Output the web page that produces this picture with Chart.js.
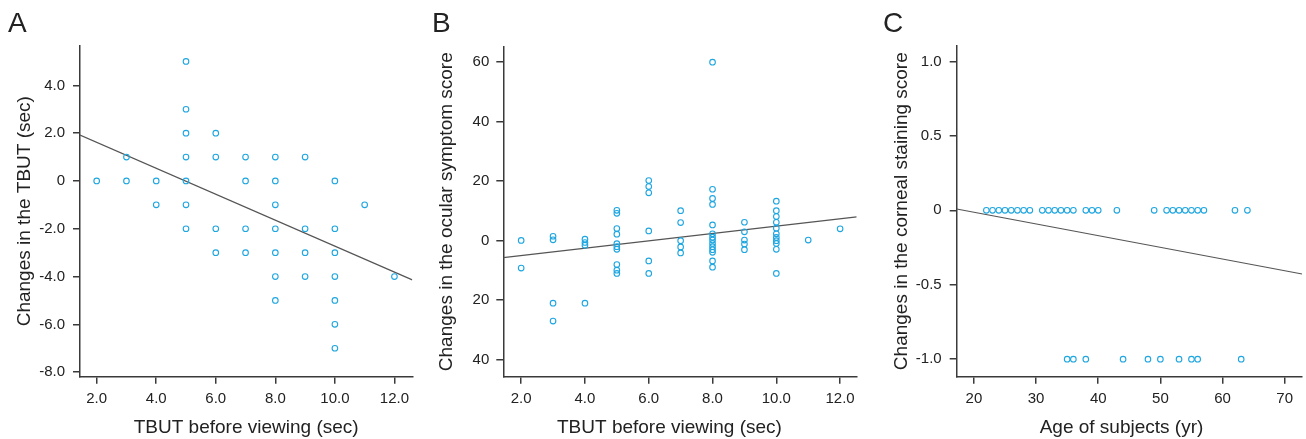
<!DOCTYPE html>
<html><head><meta charset="utf-8">
<script src="https://cdn.jsdelivr.net/npm/chart.js@4"></script>
<style>
html,body{margin:0;padding:0;background:#fff;width:1306px;height:439px;overflow:hidden;}
canvas{position:absolute;top:0;}
</style></head><body>
<canvas id="cA" width="430" height="439" style="left:0px"></canvas>
<canvas id="cB" width="440" height="439" style="left:430px"></canvas>
<canvas id="cC" width="436" height="439" style="left:870px"></canvas>
<script>
// ---------- Panel A ----------
const tbutA   = [2, 3,3, 4,4, 5,5,5,5,5,5,5, 6,6,6,6, 7,7,7,7, 8,8,8,8,8,8,8, 9,9,9,9, 10,10,10,10,10,10,10, 11, 12];
const changeA = [0, 1,0, 0,-1, 5,3,2,1,0,-1,-2, 2,1,-2,-3, 1,0,-2,-3, 1,0,-1,-2,-3,-4,-5, 1,-2,-3,-4, 0,-2,-3,-4,-5,-6,-7, -1, -4];
const fitLineA = [{x:1.44, y:1.92}, {x:12.6, y:-4.14}];
const xTicksA  = [2,4,6,8,10,12];
const xLabelsA = ['2.0','4.0','6.0','8.0','10.0','12.0'];
const yTicksA  = [-8,-6,-4,-2,0,2,4];
const yLabelsA = ['-8.0','-6.0','-4.0','-2.0','0','2.0','4.0'];

// ---------- Panel B ----------
const tbutB = [2,2, 3,3,3,3, 4,4,4,4, 5,5,5,5,5,5,5,5,5,5, 6,6,6,6,6,6, 7,7,7,7,7,
  8,8,8,8,8,8,8,8,8,8,8,8,8,8, 9,9,9,9,9, 10,10,10,10,10,10,10,10,10,10,10, 11, 12];
const symptomB = [0.1,-9.2, 1.5,0.3,-21,-27, 0.5,-0.6,-1.5,-21,
  10.2,9.2,4.1,2.2,-1.0,-2.0,-2.9,-8.0,-9.9,-11.0,
  20.2,18.2,16.1,3.3,-6.8,-11.0,
  10.1,6.1,0,-2.1,-4.1,
  60,17.3,14.2,12.2,5.3,2.3,1.2,0.2,-0.9,-2.0,-3.0,-3.9,-6.8,-8.9,
  6.2,3.0,0.2,-1.1,-3.0,
  13.3,10.1,8.1,6.2,4.2,2.3,1.1,0,-0.9,-2.9,-11.0,
  0.2, 4.0];
const fitLineB = [{x:1.44, y:-5.7}, {x:12.52, y:8.0}];
const xTicksB  = [2,4,6,8,10,12];
const xLabelsB = ['2.0','4.0','6.0','8.0','10.0','12.0'];
const yTicksB  = [-40,-20,0,20,40,60];
const yLabelsB = ['40','20','0','20','40','60'];

// ---------- Panel C ----------
const ageC = [22,23,24,25,26,27,28,29,31,32,33,34,35,36,38,39,40,43,49,51,52,53,54,55,56,57,62,64,
  35,36,38,44,48,50,53,55,56,63];
const stainC = [0,0,0,0,0,0,0,0,0,0,0,0,0,0,0,0,0,0,0,0,0,0,0,0,0,0,0,0,
  -1,-1,-1,-1,-1,-1,-1,-1,-1,-1];
const fitLineC = [{x:17.23, y:0.009}, {x:72.8, y:-0.428}];
const xTicksC  = [20,30,40,50,60,70];
const xLabelsC = ['20','30','40','50','60','70'];
const yTicksC  = [-1,-0.5,0,0.5,1];
const yLabelsC = ['-1.0','-0.5','0','0.5','1.0'];

const FONT = "'Liberation Sans', Arial, Helvetica, sans-serif";
const AXIS = '#3a3a3a';
const TEXT = '#222';
const DOT  = '#1ea6e0';

function pts(xs, ys){ return xs.map((x,i)=>({x:x, y:ys[i]})); }

const letterPlugin = {
  id:'panelLetter',
  afterDraw(chart, args, opts){
    const ctx = chart.ctx; ctx.save();
    ctx.font = '28px ' + FONT; ctx.fillStyle = TEXT;
    ctx.textBaseline = 'alphabetic'; ctx.textAlign = 'left';
    ctx.fillText(opts.text, opts.x, opts.y); ctx.restore();
  }
};

function makeChart(id, c){
  return new Chart(document.getElementById(id), {
    type:'scatter',
    data:{datasets:[
      {type:'line', data:c.line, borderColor:'#555', borderWidth:1.2, pointRadius:0, fill:false, order:1},
      {data:pts(c.xs, c.ys), borderColor:DOT, backgroundColor:'rgba(0,0,0,0)', pointRadius:2.8,
       pointHoverRadius:2.8, borderWidth:1.1, order:0}
    ]},
    options:{
      responsive:false, animation:false, devicePixelRatio:1,
      events:[],
      layout:{padding:{left:0, top:c.padTop, right:c.padRight, bottom:0}},
      plugins:{legend:{display:false}, tooltip:{enabled:false},
               panelLetter:{text:c.letter, x:c.letterX, y:32}},
      scales:{
        x:{type:'linear', position:'bottom', min:c.xMin, max:c.xMax,
           afterFit(s){ s.height = c.xAxisH; },
           afterBuildTicks(s){ s.ticks = c.xTicks.map(v=>({value:v})); },
           ticks:{callback:(v,i)=>c.xLabels[i], font:{family:FONT,size:15}, color:TEXT,
                  padding:6, maxRotation:0, autoSkip:false},
           grid:{drawOnChartArea:false, drawTicks:true, tickLength:7, color:AXIS, lineWidth:1.5},
           border:{color:AXIS, width:1.5},
           title:{display:true, text:c.xTitle, font:{family:FONT,size:19}, color:TEXT,
                  padding:{top:0,bottom:0}}
        },
        y:{type:'linear', position:'left', min:c.yMin, max:c.yMax,
           afterFit(s){ s.width = c.yAxisW; },
           afterBuildTicks(s){ s.ticks = c.yTicks.map(v=>({value:v})); },
           ticks:{callback:(v,i)=>c.yLabels[i], font:{family:FONT,size:15}, color:TEXT,
                  padding:c.yTickPad, autoSkip:false},
           grid:{drawOnChartArea:false, drawTicks:true, tickLength:7, color:AXIS, lineWidth:1.5},
           border:{color:AXIS, width:1.5},
           title:{display:true, text:c.yTitle, font:{family:FONT,size:19}, color:TEXT,
                  padding:{top:c.yTitlePad,bottom:0}}
        }
      }
    },
    plugins:[letterPlugin]
  });
}

makeChart('cA', {
  xs:tbutA, ys:changeA, line:fitLineA, letter:'A', letterX:8,
  xMin:1.44, xMax:12.6, yMin:-8.19, yMax:5.66,
  xTicks:xTicksA, xLabels:xLabelsA, yTicks:yTicksA, yLabels:yLabelsA,
  padTop:45.7, padRight:17.7, yAxisW:80, xAxisH:62.3, yTickPad:8, yTitlePad:13.6,
  xTitle:'TBUT before viewing (sec)', yTitle:'Changes in the TBUT (sec)'
});
makeChart('cB', {
  xs:tbutB, ys:symptomB, line:fitLineB, letter:'B', letterX:2,
  xMin:1.44, xMax:12.52, yMin:-45.7, yMax:65.2,
  xTicks:xTicksB, xLabels:xLabelsB, yTicks:yTicksB, yLabels:yLabelsB,
  padTop:46.7, padRight:13.3, yAxisW:73.3, xAxisH:62.3, yTickPad:7, yTitlePad:5.3,
  xTitle:'TBUT before viewing (sec)\u00A0\u00A0\u00A0\u00A0', yTitle:'Changes in the ocular symptom score'
});
makeChart('cC', {
  xs:ageC, ys:stainC, line:fitLineC, letter:'C', letterX:13,
  xMin:17.23, xMax:72.8, yMin:-1.118, yMax:1.106,
  xTicks:xTicksC, xLabels:xLabelsC, yTicks:yTicksC, yLabels:yLabelsC,
  padTop:45.7, padRight:1.7, yAxisW:86.7, xAxisH:62.3, yTickPad:8, yTitlePad:20.3,
  xTitle:'Age of subjects (yr)\u00A0\u00A0\u00A0', yTitle:'Changes in the corneal staining score'
});
</script>
</body></html>
